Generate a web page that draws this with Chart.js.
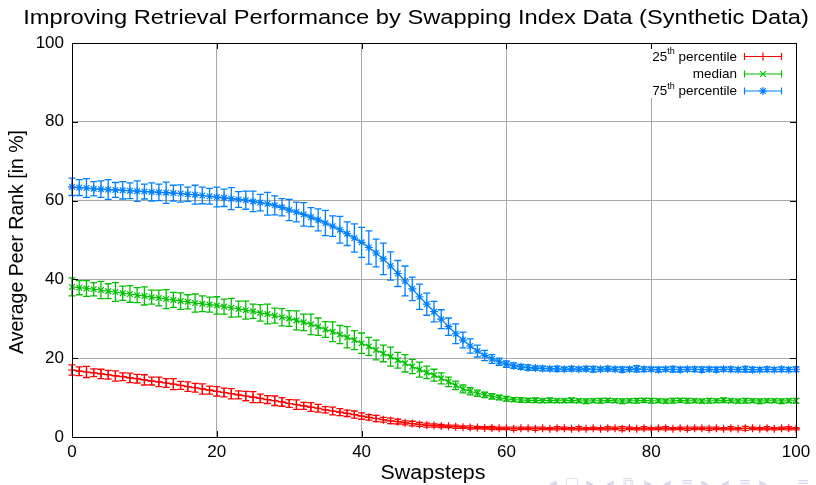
<!DOCTYPE html>
<html>
<head>
<meta charset="utf-8">
<script src="https://cdn.jsdelivr.net/npm/chart.js@4.4.1/dist/chart.umd.min.js"></script>
<style>
html,body{margin:0;padding:0;background:#fff;}
#wrap{width:816px;height:485px;position:relative;}
</style>
</head>
<body>
<div id="wrap"><canvas id="c" width="816" height="485"></canvas></div>
<script>
const steps = [0,1,2,3,4,5,6,7,8,9,10,11,12,13,14,15,16,17,18,19,20,21,22,23,24,25,26,27,28,29,30,31,32,33,34,35,36,37,38,39,40,41,42,43,44,45,46,47,48,49,50,51,52,53,54,55,56,57,58,59,60,61,62,63,64,65,66,67,68,69,70,71,72,73,74,75,76,77,78,79,80,81,82,83,84,85,86,87,88,89,90,91,92,93,94,95,96,97,98,99,100];

const p25 = [17.0,16.7,16.5,16.3,16.0,15.8,15.5,15.3,15.0,14.8,
14.5,14.2,14.0,13.7,13.4,13.1,12.8,12.5,12.2,11.9,
11.6,11.3,11.0,10.7,10.4,10.1,9.8,9.5,9.2,8.9,
8.5,8.2,7.9,7.6,7.3,6.9,6.6,6.3,6.0,5.7,
5.3,5.0,4.7,4.4,4.1,3.9,3.6,3.4,3.2,3.0,
2.9,2.8,2.7,2.6,2.5,2.4,2.4,2.3,2.3,2.2,
2.2,2.1,2.2,2.2,2.1,2.2,2.1,2.2,2.2,2.1,
2.2,2.1,2.2,2.1,2.2,2.2,2.1,2.2,2.1,2.2,
2.1,2.2,2.2,2.1,2.2,2.1,2.2,2.2,2.1,2.2,
2.1,2.2,2.1,2.2,2.2,2.1,2.2,2.1,2.2,2.2,2.1];
const p25err = [1.3,1.1,1.4,1.0,1.2,1.1,1.3,1.0,1.2,1.1,
1.3,1.0,1.2,1.1,1.4,1.0,1.2,1.1,1.3,1.0,
1.2,1.1,1.3,1.0,1.2,1.4,1.1,1.0,1.2,1.1,
1.0,1.2,0.9,1.1,1.0,0.8,1.0,0.9,0.8,0.9,
0.8,0.7,0.8,0.6,0.7,0.6,0.5,0.6,0.5,0.5,
0.4,0.4,0.3,0.4,0.3,0.4,0.3,0.3,0.4,0.3,
0.3,0.4,0.3,0.3,0.4,0.3,0.3,0.4,0.3,0.3,
0.4,0.3,0.3,0.3,0.4,0.3,0.5,0.3,0.3,0.4,
0.3,0.3,0.4,0.3,0.3,0.4,0.3,0.3,0.4,0.3,
0.3,0.4,0.3,0.5,0.3,0.3,0.4,0.3,0.3,0.4,0.3];

const median = [38.1,37.9,37.7,37.5,37.3,37.0,36.8,36.5,36.3,36.0,
35.8,35.5,35.3,35.0,34.8,34.5,34.3,34.0,33.8,33.6,
33.4,33.1,32.8,32.5,32.2,31.9,31.5,31.2,30.8,30.4,
30.1,29.6,29.1,28.6,28.0,27.3,26.7,26.0,25.3,24.6,
23.8,23.0,22.1,21.2,20.4,19.5,18.7,17.9,17.1,16.4,
15.7,14.9,14.0,13.1,12.2,11.6,11.1,10.7,10.3,10.0,
9.7,9.5,9.4,9.3,9.3,9.2,9.3,9.2,9.2,9.3,
9.2,9.1,9.2,9.2,9.3,9.2,9.1,9.2,9.2,9.3,
9.2,9.2,9.1,9.2,9.3,9.2,9.2,9.1,9.2,9.2,
9.3,9.2,9.1,9.2,9.2,9.1,9.2,9.2,9.1,9.2,9.2];
const medianErr = [2.3,1.8,2.0,1.7,2.2,1.9,2.4,1.8,2.1,1.9,
2.3,1.8,2.0,2.4,1.9,2.1,1.8,2.3,2.0,1.9,
2.2,1.9,2.4,2.0,2.3,1.8,2.1,2.5,1.9,2.2,
2.0,2.4,2.1,2.6,2.2,2.0,2.5,2.3,2.7,2.4,
2.6,2.3,2.5,2.1,2.4,2.0,2.2,1.8,1.9,1.6,
1.5,1.4,1.2,1.1,1.0,0.9,0.8,0.7,0.7,0.6,
0.6,0.5,0.6,0.5,0.6,0.5,0.6,0.5,0.5,0.6,
0.5,0.6,0.5,0.6,0.5,0.5,0.6,0.5,0.6,0.5,
0.6,0.5,0.5,0.6,0.5,0.6,0.5,0.5,0.6,0.5,
0.6,0.5,0.5,0.6,0.5,0.6,0.5,0.5,0.6,0.5,0.6];

const p75 = [63.5,63.3,63.2,63.0,62.9,62.8,62.7,62.6,62.5,62.4,
62.3,62.2,62.1,62.0,61.9,61.8,61.6,61.5,61.3,61.1,
60.9,60.7,60.5,60.3,60.1,59.8,59.5,59.2,58.8,58.3,
57.6,57.1,56.5,55.8,55.1,54.3,53.5,52.6,51.6,50.5,
49.4,48.1,46.7,45.2,43.4,41.5,39.6,37.6,35.6,33.7,
31.8,29.9,28.0,26.2,24.6,23.1,21.8,20.7,19.8,19.1,
18.5,18.1,17.8,17.6,17.5,17.4,17.3,17.3,17.2,17.3,
17.2,17.3,17.2,17.2,17.3,17.2,17.1,17.2,17.3,17.2,
17.2,17.1,17.2,17.2,17.1,17.2,17.2,17.1,17.2,17.1,
17.2,17.2,17.1,17.2,17.1,17.1,17.2,17.1,17.2,17.1,17.2];
const p75err = [2.2,2.0,2.4,1.8,2.1,2.5,1.9,2.2,2.0,2.6,
1.9,2.3,2.1,2.7,2.0,2.2,1.8,2.4,2.1,2.0,
2.5,2.2,2.8,2.0,2.3,2.6,2.1,2.9,2.4,2.2,
2.7,2.5,3.0,2.4,2.8,3.2,2.6,3.4,3.0,3.6,
3.8,4.2,3.5,4.0,3.6,3.3,3.8,3.0,3.2,2.8,
2.6,2.4,2.2,2.5,2.0,1.8,1.5,1.3,1.1,0.9,
0.8,0.7,0.6,0.7,0.5,0.6,0.5,0.7,0.5,0.6,
0.5,0.6,0.7,0.5,0.6,0.5,0.7,0.5,0.8,0.6,
0.5,0.6,0.5,0.7,0.6,0.5,0.6,0.7,0.5,0.6,
0.5,0.6,0.5,0.7,0.6,0.5,0.6,0.5,0.6,0.5,0.6];

const xTicks = [0,20,40,60,80,100];
const yTicks = [0,20,40,60,80,100];

const titleText = "Improving Retrieval Performance by Swapping Index Data (Synthetic Data)";
const xTitle = "Swapsteps";
const yTitle = "Average Peer Rank [in %]";
const legendItems = [
  {num:"25", sup:"th", rest:" percentile"},
  {num:"", sup:"", rest:"median"},
  {num:"75", sup:"th", rest:" percentile"}
];
const navGlyphs = ['◂','□','▸','◂','⧉','▸','◂','≡','▸','◂','≡','▸','≡'];

const RED = "#ff0000", GREEN = "#00c000", BLUE = "#0080ff";
const FONT = "'Liberation Sans', Arial, sans-serif";

function mk(vals, label, color, style) {
  return {
    label: label,
    data: steps.map((s, i) => ({x: s, y: vals[i]})),
    borderColor: color,
    backgroundColor: color,
    borderWidth: 1.2,
    pointStyle: style,
    pointRadius: 4,
    pointBorderWidth: 1.2,
    pointBorderColor: color,
    pointBackgroundColor: color,
    tension: 0,
    clip: false,
    fill: false
  };
}
const errs = [p25err, medianErr, p75err];
const vals = [p25, median, p75];
const colors = [RED, GREEN, BLUE];
const styles = ['cross', 'crossRot', 'star'];

const errorBars = {
  id: 'errorBars',
  beforeDatasetsDraw(chart) {
    const ctx = chart.ctx, xs = chart.scales.x, ys = chart.scales.y;
    ctx.save();
    ctx.lineWidth = 1.3;
    for (let d = 0; d < 3; d++) {
      ctx.strokeStyle = colors[d];
      ctx.beginPath();
      for (let i = 0; i < steps.length; i++) {
        const x = xs.getPixelForValue(steps[i]);
        const yt = ys.getPixelForValue(vals[d][i] + errs[d][i]);
        const yb = ys.getPixelForValue(vals[d][i] - errs[d][i]);
        ctx.moveTo(x, yt); ctx.lineTo(x, yb);
        ctx.moveTo(x - 3.5, yt); ctx.lineTo(x + 3.5, yt);
        ctx.moveTo(x - 3.5, yb); ctx.lineTo(x + 3.5, yb);
      }
      ctx.stroke();
    }
    ctx.restore();
  }
};

function stretchedText(ctx, text, x, y, size, sx) {
  ctx.save();
  ctx.font = size + 'px ' + FONT;
  ctx.translate(x, y);
  ctx.scale(sx, 1);
  ctx.fillText(text, 0, 0);
  ctx.restore();
}

const frame = {
  id: 'frame',
  afterDraw(chart) {
    const ctx = chart.ctx, a = chart.chartArea, xs = chart.scales.x, ys = chart.scales.y;
    ctx.save();
    // legend
    const lx1 = 648, ly1 = 47, lx2 = 790, ly2 = 98;
    ctx.fillStyle = '#fff';
    ctx.fillRect(lx1, ly1, lx2 - lx1, ly2 - ly1);
    const rowsY = [56, 73.5, 90.5];
    for (let r = 0; r < 3; r++) {
      const it = legendItems[r];
      const y = rowsY[r];
      ctx.fillStyle = '#000';
      ctx.textBaseline = 'middle';
      ctx.font = '13.5px ' + FONT;
      const wRest = ctx.measureText(it.rest).width;
      ctx.font = '9px ' + FONT;
      const wSup = ctx.measureText(it.sup).width;
      ctx.font = '13.5px ' + FONT;
      const wNum = ctx.measureText(it.num).width;
      let x = 737 - wRest - wSup - wNum;
      ctx.textAlign = 'left';
      ctx.fillText(it.num, x, y + 1); x += wNum;
      ctx.font = '9px ' + FONT;
      ctx.fillText(it.sup, x, y - 4); x += wSup;
      ctx.font = '13.5px ' + FONT;
      ctx.fillText(it.rest, x, y + 1);
      // sample
      ctx.strokeStyle = colors[r];
      ctx.fillStyle = colors[r];
      ctx.lineWidth = 1.2;
      ctx.beginPath();
      ctx.moveTo(744, y + 0.5); ctx.lineTo(782, y + 0.5);
      ctx.moveTo(744.5, y - 3); ctx.lineTo(744.5, y + 4);
      ctx.moveTo(781.5, y - 3); ctx.lineTo(781.5, y + 4);
      ctx.stroke();
      Chart.helpers.drawPoint(ctx, {pointStyle: styles[r], radius: 4, borderWidth: 1.2}, 763, y + 0.5);
    }
    // border
    ctx.strokeStyle = '#000';
    ctx.lineWidth = 1;
    ctx.strokeRect(Math.round(a.left) + 0.5, Math.round(a.top) + 0.5, Math.round(a.right - a.left), Math.round(a.bottom - a.top));
    // ticks (inward, mirrored)
    ctx.beginPath();
    xTicks.forEach(v => {
      const x = Math.round(xs.getPixelForValue(v)) + 0.5;
      ctx.moveTo(x, a.bottom); ctx.lineTo(x, a.bottom - 6);
      ctx.moveTo(x, a.top); ctx.lineTo(x, a.top + 6);
    });
    yTicks.forEach(v => {
      const y = Math.round(ys.getPixelForValue(v)) + 0.5;
      ctx.moveTo(a.left, y); ctx.lineTo(a.left + 6, y);
      ctx.moveTo(a.right, y); ctx.lineTo(a.right - 6, y);
    });
    ctx.stroke();
    // titles
    ctx.fillStyle = '#000';
    ctx.textAlign = 'center';
    ctx.textBaseline = 'middle';
    stretchedText(ctx, titleText, 416, 18, 20.5, 1.155);
    stretchedText(ctx, xTitle, 433, 474, 19.5, 1.1);
    ctx.save();
    ctx.translate(18, 242);
    ctx.rotate(-Math.PI / 2);
    ctx.font = '19.5px ' + FONT;
    ctx.fillText(yTitle, 0, 0);
    ctx.restore();
    // navigation symbols (faint)
    ctx.fillStyle = '#d8d8ef';
    ctx.font = '15px "DejaVu Sans", sans-serif';
    ctx.textBaseline = 'top';
    const navX = [553, 572, 590, 610, 628, 648, 667, 687, 705, 725, 745, 763, 803];
    navGlyphs.forEach((g, i) => ctx.fillText(g, navX[i], 477));
    ctx.restore();
  }
};

new Chart(document.getElementById('c'), {
  type: 'line',
  data: { datasets: [mk(p25, '25th percentile', RED, 'cross'), mk(median, 'median', GREEN, 'crossRot'), mk(p75, '75th percentile', BLUE, 'star')] },
  options: {
    responsive: false,
    animation: false,
    devicePixelRatio: 1,
    layout: { padding: { top: 43, right: 20, left: 0, bottom: 0 } },
    plugins: { legend: { display: false }, title: { display: false }, tooltip: { enabled: false } },
    scales: {
      x: {
        type: 'linear', min: 0, max: 100,
        afterBuildTicks(s) { s.ticks = xTicks.map(v => ({value: v})); },
        afterFit(s) { s.height = 48; },
        grid: { color: '#a8a8a8', lineWidth: 1, drawTicks: false },
        border: { display: false },
        ticks: { color: '#000', font: { family: FONT, size: 17 }, padding: 5, maxRotation: 0 }
      },
      y: {
        type: 'linear', min: 0, max: 100,
        afterBuildTicks(s) { s.ticks = yTicks.map(v => ({value: v})); },
        afterFit(s) { s.width = 72; },
        grid: { color: '#a8a8a8', lineWidth: 1, drawTicks: false },
        border: { display: false },
        ticks: { color: '#000', font: { family: FONT, size: 17 }, padding: 8 }
      }
    }
  },
  plugins: [errorBars, frame]
});
</script>
</body>
</html>
